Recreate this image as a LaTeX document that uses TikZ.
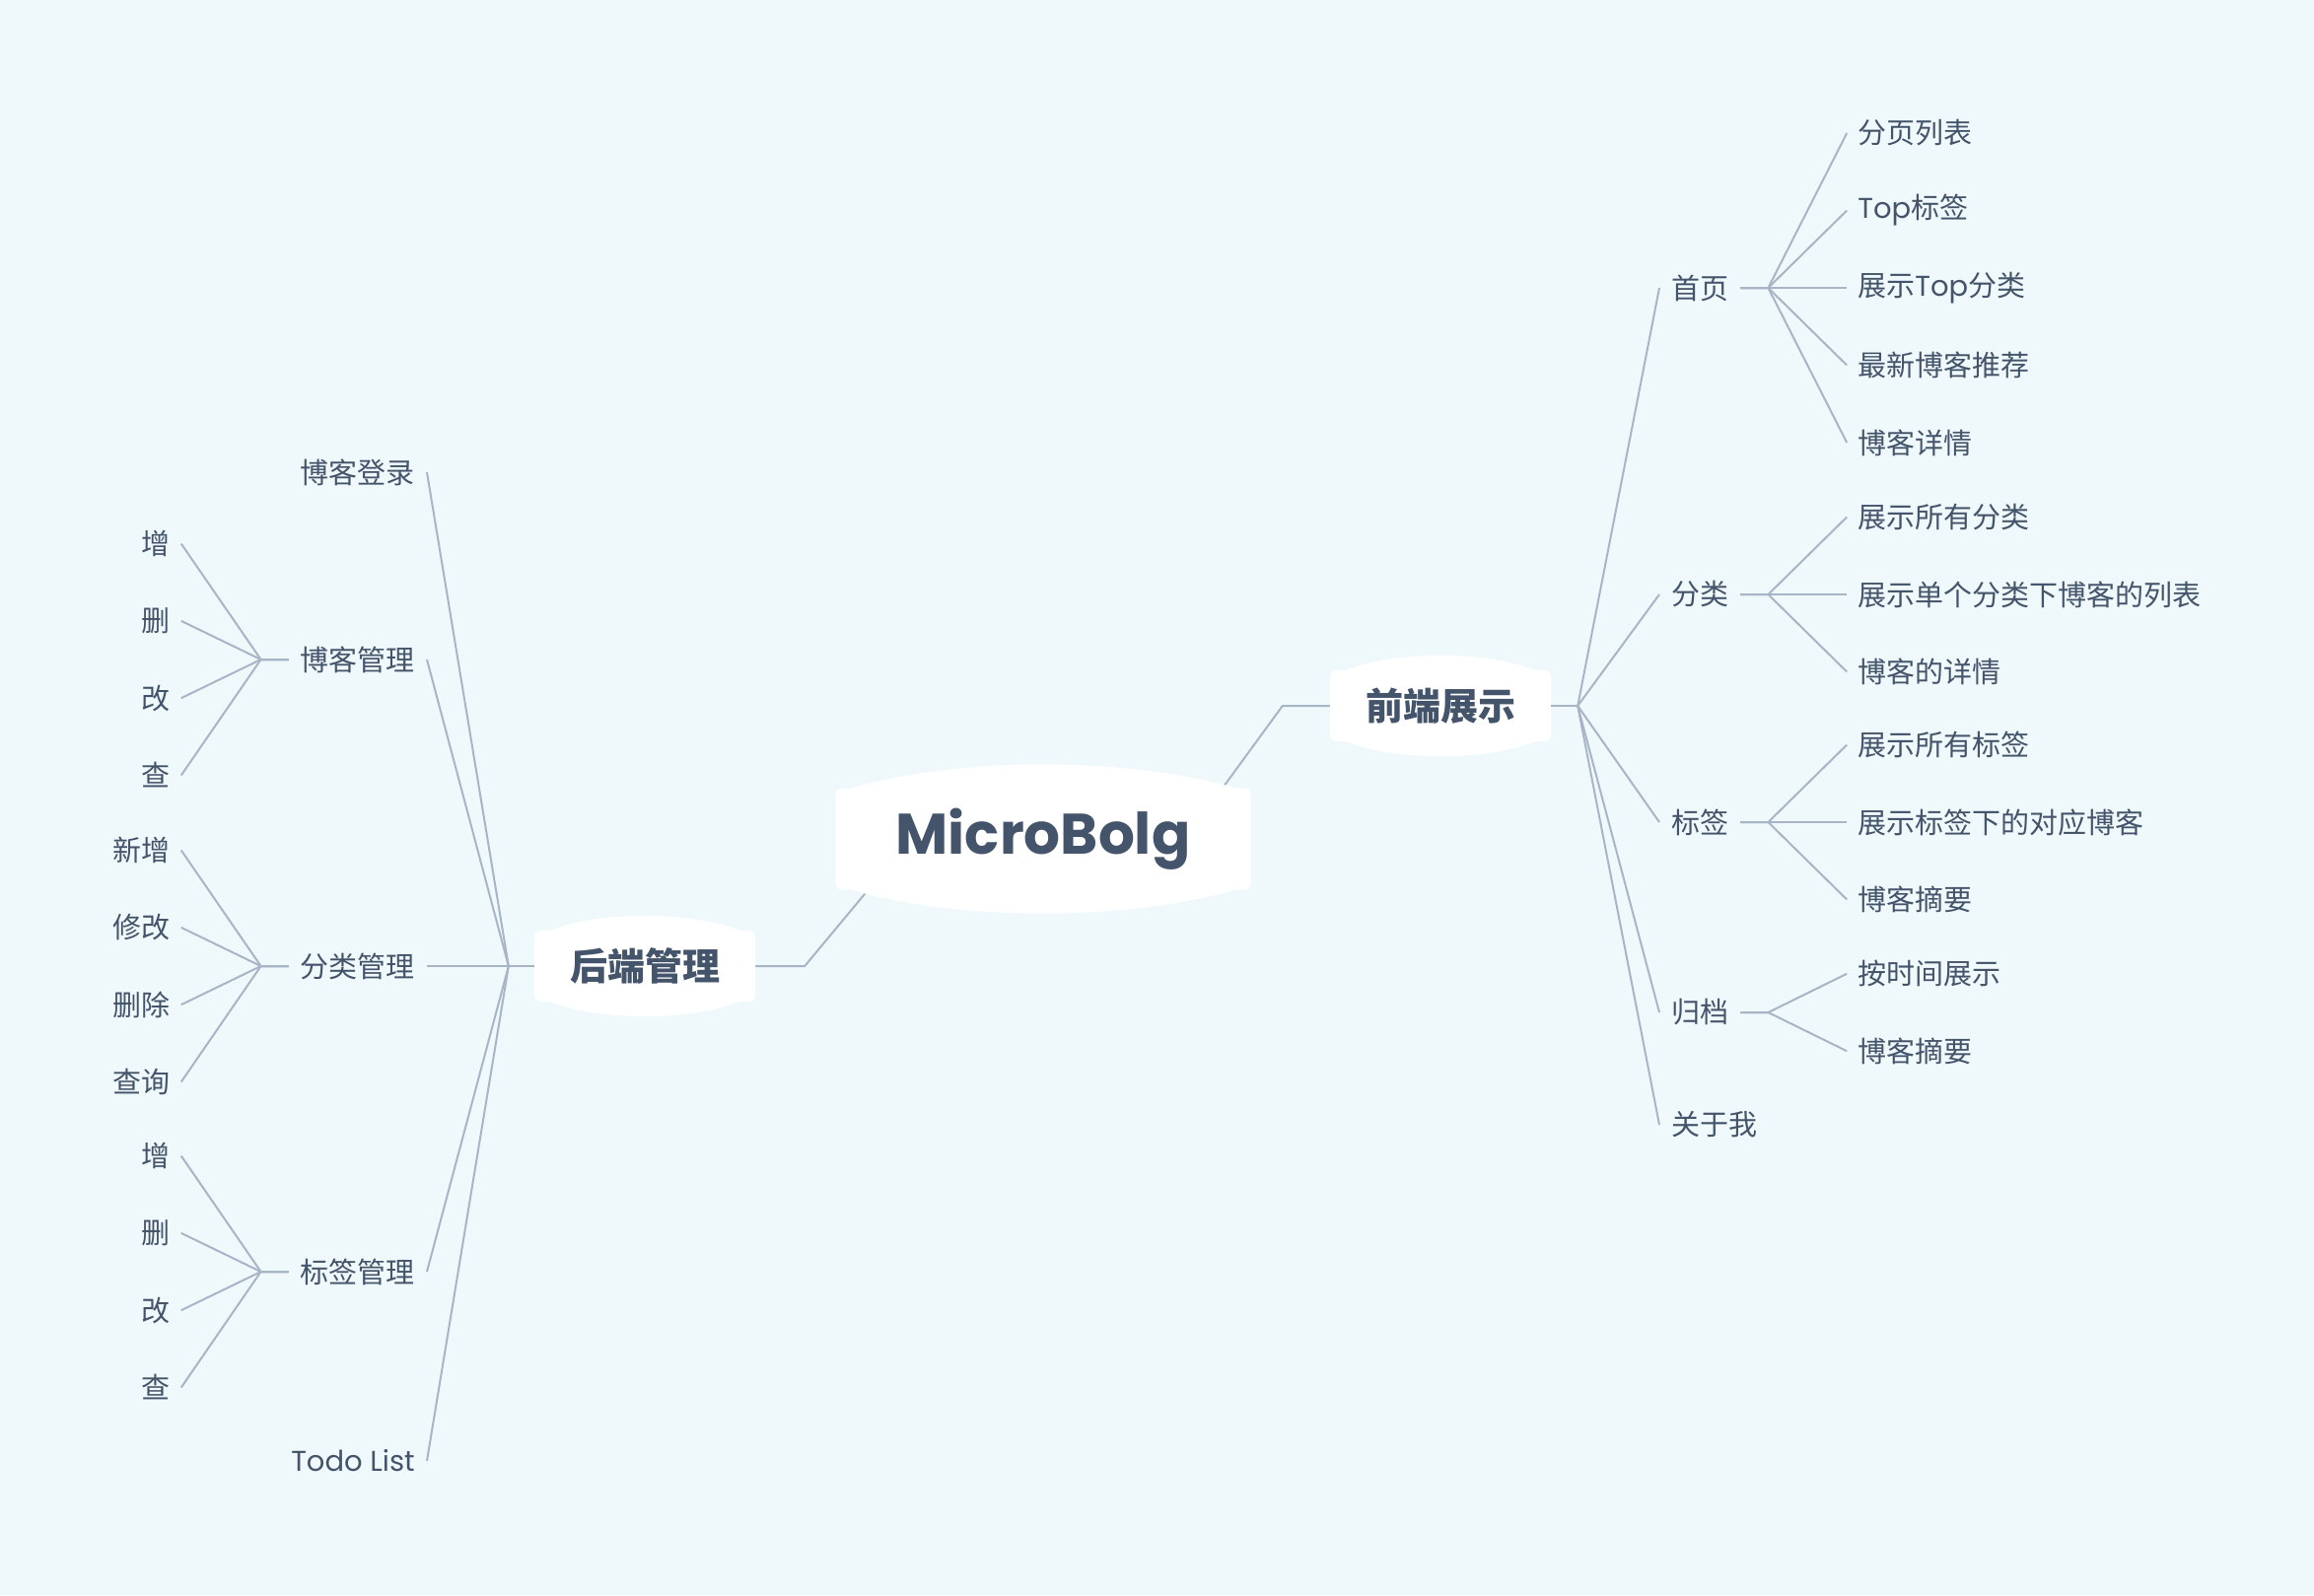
\documentclass[tikz,border=0pt]{standalone}
\usepackage{fontspec}
\setmainfont{Poppins}
\newfontfamily\cjk{Noto Sans CJK SC}
\usetikzlibrary{backgrounds,calc}

\definecolor{bgc}{HTML}{EFF8FB}
\definecolor{txtc}{HTML}{44546B}
\definecolor{linec}{HTML}{A7B5C7}

\newcommand\poptxt[1]{{\rmfamily #1}}

\begin{document}
\begin{tikzpicture}[
        x=1pt, y=-1pt,
        every node/.style={text=txtc},
        link/.style={draw=linec, line width=2pt}, % Линии связей
        root/.style={font=\fontsize{58}{60}\selectfont\bfseries, minimum width=421pt, minimum height=103pt, inner sep=0pt},
        topic/.style={font=\cjk\fontsize{38}{40}\selectfont\bfseries, minimum width=224pt, minimum height=72pt, inner sep=0pt},
        branch/.style={font=\cjk\fontsize{29}{31}\selectfont, inner xsep=12pt, inner ysep=4pt},
        leaf/.style={font=\cjk\fontsize{29}{31}\selectfont, inner xsep=11pt, inner ysep=4pt},
        edge from parent/.style={link},
        rtree/.style={grow'=east, level distance=149pt, sibling distance=78.5pt, % Дерево вправо
                every child node/.style={leaf, anchor=west},
                edge from parent path={(\tikzparentnode.east) -- ++(28pt,0pt) -- (\tikzchildnode.west)}},
        ltree/.style={grow=west, level distance=179pt, sibling distance=78.3pt, % Дерево влево
                every child node/.style={leaf, anchor=east},
                edge from parent path={(\tikzparentnode.west) -- ++(-28pt,0pt) -- (\tikzchildnode.east)}},
    ]

    \node[root] (micro) at (1058,851) {MicroBolg};
    \node[topic] (front) at (1461,716) {前端展示};
    \node[topic] (back) at (654,980) {后端管理};

    % Правая часть
    \node[branch, anchor=west] (home) at (1683,292) {首页} [rtree]
    child {node {分页列表}}
    child {node {\poptxt{Top}标签}}
    child {node {展示\poptxt{Top}分类}}
    child {node {最新博客推荐}}
    child {node {博客详情}};
    \node[branch, anchor=west] (cate) at (1683,603) {分类} [rtree]
    child {node {展示所有分类}}
    child {node {展示单个分类下博客的列表}}
    child {node {博客的详情}};
    \node[branch, anchor=west] (tags) at (1683,834) {标签} [rtree]
    child {node {展示所有标签}}
    child {node {展示标签下的对应博客}}
    child {node {博客摘要}};
    \node[branch, anchor=west] (arch) at (1683,1027) {归档} [rtree]
    child {node {按时间展示}}
    child {node {博客摘要}};
    \node[branch, anchor=west] (about) at (1683,1141) {关于我};

    % Левая часть
    \node[branch, anchor=east] (login) at (433,479) {博客登录};
    \node[branch, anchor=east] (bmgr) at (433,669) {博客管理} [ltree]
    child {node {增}}
    child {node {删}}
    child {node {改}}
    child {node {查}};
    \node[branch, anchor=east] (cmgr) at (433,980) {分类管理} [ltree]
    child {node {新增}}
    child {node {修改}}
    child {node {删除}}
    child {node {查询}};
    \node[branch, anchor=east] (tmgr) at (433,1290) {标签管理} [ltree]
    child {node {增}}
    child {node {删}}
    child {node {改}}
    child {node {查}};
    \node[branch, anchor=east] (todo) at (433,1482) {\poptxt{Todo List}};

    \draw[link] (front.east) -- ++(27pt,0pt) coordinate (fhub);
    \foreach \b in {home,cate,tags,arch,about} \draw[link] (fhub) -- (\b.west);
    \draw[link] (back.west) -- ++(-26pt,0pt) coordinate (bhub);
    \foreach \b in {login,bmgr,cmgr,tmgr,todo} \draw[link] (bhub) -- (\b.east);

    \begin{pgfonlayer}{background}
        \fill[bgc] (0,0) rectangle (2347,1618);
        \draw[link] ([xshift=-44pt,yshift=-21pt]micro.north east) -- ([xshift=-48pt]front.west) -- (front.west);
        \draw[link] ([xshift=44pt,yshift=13pt]micro.south west) -- ([xshift=50pt]back.east) -- (back.east);
        % Белые подложки с выпуклыми краями
        \foreach \n/\c in {micro/32, front/20, back/20}
        \fill[white] ([yshift=-16pt]\n.north west) -- ([yshift=16pt]\n.south west)
        .. controls (\n.south west) .. ([xshift=16pt]\n.south west)
        .. controls ($(\n.south west)!0.3!(\n.south east)+(0,\c)$) and ($(\n.south west)!0.7!(\n.south east)+(0,\c)$) .. ([xshift=-16pt]\n.south east)
        .. controls (\n.south east) .. ([yshift=16pt]\n.south east)
        -- ([yshift=-16pt]\n.north east)
        .. controls (\n.north east) .. ([xshift=-16pt]\n.north east)
        .. controls ($(\n.north west)!0.7!(\n.north east)-(0,\c)$) and ($(\n.north west)!0.3!(\n.north east)-(0,\c)$) .. ([xshift=16pt]\n.north west)
        .. controls (\n.north west) .. cycle;
    \end{pgfonlayer}
\end{tikzpicture}
\end{document}
